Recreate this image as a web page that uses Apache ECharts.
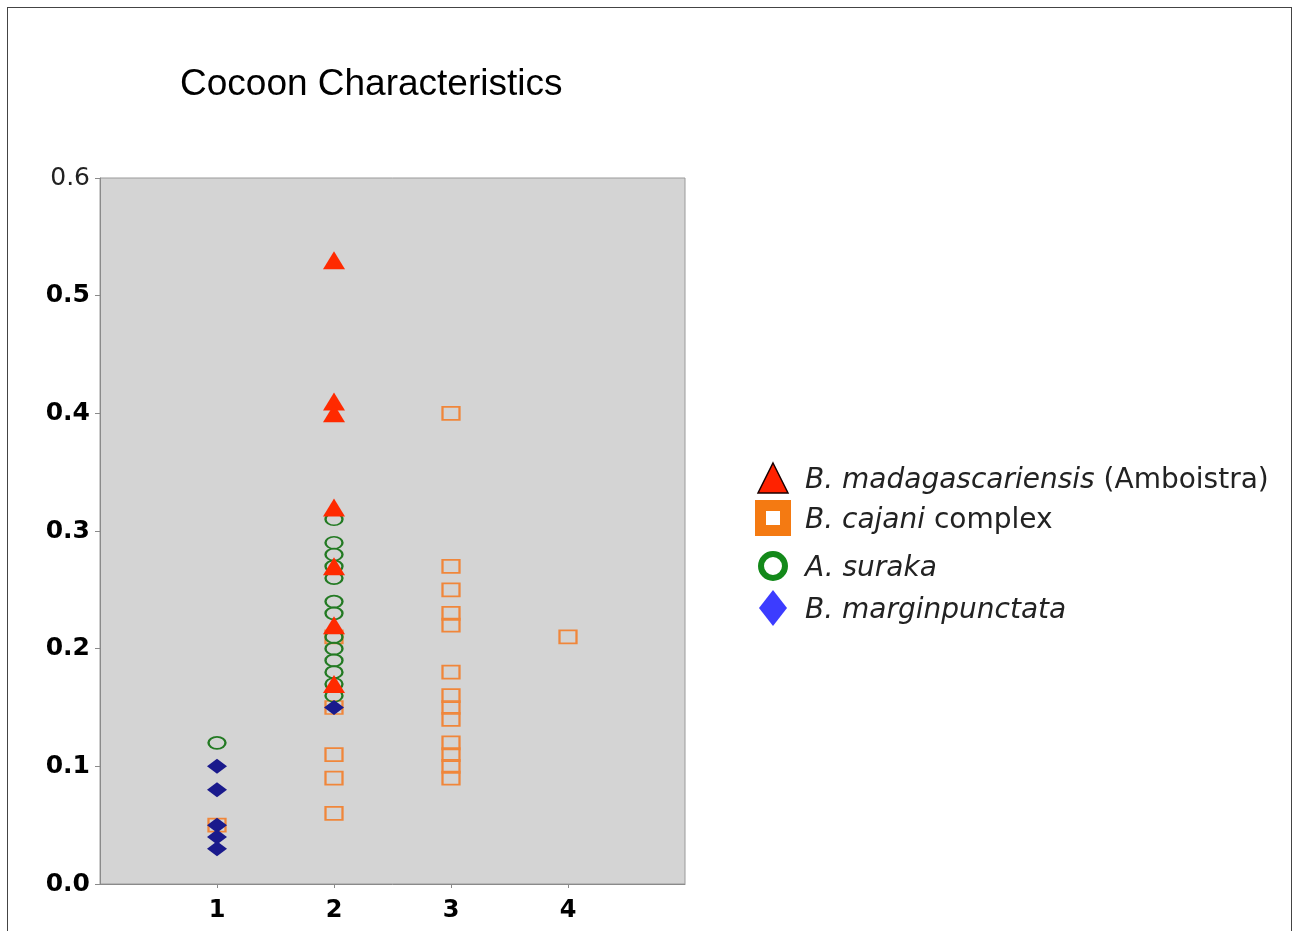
<!DOCTYPE html>
<html>
<head>
<meta charset="utf-8">
<script src="https://cdn.jsdelivr.net/npm/echarts@6/dist/echarts.min.js"></script>
<style>
html,body{margin:0;padding:0;background:#fff;}
#frame{position:absolute;left:7px;top:7px;width:1285px;height:930px;border:1px solid #444;box-sizing:border-box;}
#chart{position:absolute;left:0;top:0;width:1293px;height:931px;}
</style>
</head>
<body>
<div id="frame"></div>
<div id="chart"></div>
<script>
// Data (x = category 1..4, y = value)
const madagascariensis = [[2,0.53],[2,0.41],[2,0.40],[2,0.32],[2,0.27],[2,0.22],[2,0.17]];
const cajani = [[1,0.05],[2,0.21],[2,0.15],[2,0.11],[2,0.09],[2,0.06],
  [3,0.40],[3,0.27],[3,0.25],[3,0.23],[3,0.22],[3,0.18],[3,0.16],[3,0.15],[3,0.14],[3,0.12],[3,0.11],[3,0.10],[3,0.09],
  [4,0.21]];
const suraka = [[1,0.12],[2,0.31],[2,0.29],[2,0.28],[2,0.27],[2,0.26],[2,0.24],[2,0.23],[2,0.21],[2,0.20],[2,0.19],[2,0.18],[2,0.17],[2,0.16]];
const marginpunctata = [[1,0.10],[1,0.08],[1,0.05],[1,0.04],[1,0.03],[2,0.15]];
const seriesNames = ['B. madagascariensis (Amboistra)','B. cajani complex','A. suraka','B. marginpunctata'];
const yTicks = [0,0.1,0.2,0.3,0.4,0.5,0.6];

const chart = echarts.init(document.getElementById('chart'));
const LFS = 28;
function legendText(spacer) {
  return {
    fontFamily: 'DejaVu Sans', fontSize: LFS, color: '#222',
    padding: [6, 0, 0, 0],
    rich: {
      g: {width: spacer, fontSize: LFS},
      i: {fontStyle: 'italic', fontFamily: 'DejaVu Sans', fontSize: LFS, color: '#222'},
      n: {fontFamily: 'DejaVu Sans', fontSize: LFS, color: '#222'}
    }
  };
}
function mkLegend(name, icon, w, h, bw, centerY, itemStyle, fmt) {
  const left = 773 - w / 2 - bw / 2;
  const textStart = left + w + 5 + bw / 2;
  return {
    data: [{name: name, icon: icon, itemStyle: itemStyle}],
    left: left, top: centerY - h / 2 - bw / 2, padding: 0,
    itemWidth: w, itemHeight: h, symbolKeepAspect: false,
    selectedMode: false, orient: 'vertical',
    textStyle: legendText(Math.max(0, 805 - textStart)),
    formatter: fmt
  };
}

chart.setOption({
  animation: false,
  title: {
    text: 'Cocoon Characteristics', left: 175, top: 61,
    textStyle: {fontFamily: 'Liberation Sans', fontWeight: 'normal', fontSize: 37, color: '#000'}
  },
  grid: {left: 100, right: 608, top: 178, bottom: 47, show: true, backgroundColor: '#d4d4d4', borderColor: '#9a9a9a', borderWidth: 1},
  xAxis: {
    type: 'value', min: 0, max: 5, interval: 1,
    axisLine: {show: true, lineStyle: {color: '#8a8a8a', width: 1}},
    axisTick: {show: true, length: 4, lineStyle: {color: '#8a8a8a'}},
    splitLine: {show: false},
    axisLabel: {showMinLabel: false, showMaxLabel: false, margin: 15, fontFamily: 'DejaVu Sans', fontWeight: 'bold', fontSize: 24, color: '#000'}
  },
  yAxis: {
    type: 'value', min: 0, max: 0.6, interval: 0.1,
    axisLine: {show: true, lineStyle: {color: '#8a8a8a', width: 1}},
    axisTick: {show: true, length: 5, lineStyle: {color: '#8a8a8a'}},
    splitLine: {show: false},
    axisLabel: {
      margin: 10, fontFamily: 'DejaVu Sans', fontWeight: 'bold', fontSize: 25, color: '#000',
      formatter: function (v) {
        const t = v.toFixed(1);
        return Math.abs(v - yTicks[yTicks.length - 1]) < 1e-9 ? '{t|' + t + '}' : t;
      },
      rich: {t: {fontFamily: 'DejaVu Sans', fontSize: 25, color: '#222', fontWeight: 'normal'}}
    }
  },
  legend: [
    mkLegend(seriesNames[0], 'triangle', 30, 30, 1.5, 478, {color: '#ff2200', borderColor: '#1a0000', borderWidth: 1.5, opacity: 1}, '{g|}{i|B. madagascariensis} {n|(Amboistra)}'),
    mkLegend(seriesNames[1], 'rect', 25, 25, 11, 518, {color: '#ffffff', borderColor: '#f47a12', borderWidth: 11, opacity: 1}, '{g|}{i|B. cajani} {n|complex}'),
    mkLegend(seriesNames[2], 'circle', 24, 24, 6, 566, {color: '#ffffff', borderColor: '#13891a', borderWidth: 6, opacity: 1}, '{g|}{i|A. suraka}'),
    mkLegend(seriesNames[3], 'diamond', 28, 36, 0, 608, {color: '#3c3cff', borderWidth: 0, opacity: 1}, '{g|}{i|B. marginpunctata}')
  ],
  series: [
    {
      name: seriesNames[1], type: 'scatter', data: cajani, z: 2,
      symbol: 'rect', symbolSize: [17, 13],
      itemStyle: {color: 'rgba(0,0,0,0)', borderColor: '#f0863a', borderWidth: 2, opacity: 1}
    },
    {
      name: seriesNames[2], type: 'scatter', data: suraka, z: 3,
      symbol: 'circle', symbolSize: [17, 12],
      itemStyle: {color: 'rgba(0,0,0,0)', borderColor: '#237a23', borderWidth: 2, opacity: 1}
    },
    {
      name: seriesNames[0], type: 'scatter', data: madagascariensis, z: 4,
      symbol: 'triangle', symbolSize: [22, 18],
      itemStyle: {color: '#ff2a00', borderWidth: 0, opacity: 1}
    },
    {
      name: seriesNames[3], type: 'scatter', data: marginpunctata, z: 5,
      symbol: 'diamond', symbolSize: [20, 15],
      itemStyle: {color: '#1a1a8c', borderWidth: 0, opacity: 1}
    }
  ]
});
</script>
</body>
</html>
